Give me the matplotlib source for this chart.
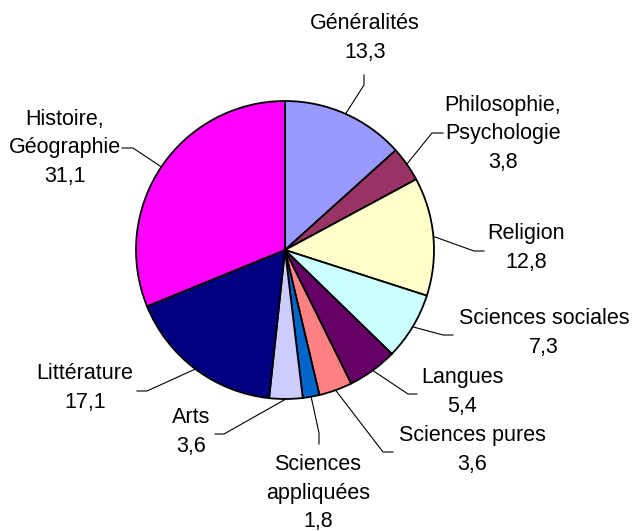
import numpy as np
import matplotlib
matplotlib.use('Agg')
import matplotlib.pyplot as plt

# Données (répartition en %)
categories = ['Généralités', 'Philosophie,\nPsychologie', 'Religion', 'Sciences sociales',
              'Langues', 'Sciences pures', 'Sciences\nappliquées', 'Arts',
              'Littérature', 'Histoire,\nGéographie']
valeurs = [13.3, 3.8, 12.8, 7.3, 5.4, 3.6, 1.8, 3.6, 17.1, 31.1]
couleurs = ['#9999FF', '#993366', '#FFFFCC', '#CCFFFF', '#660066',
            '#FF8080', '#0066CC', '#CCCCFF', '#000080', '#FF00FF']

# Mise en page (pixels, origine en haut à gauche)
W, H = 634, 531
centre_px = (285, 250)
rayon = 149
pos_texte = [(365, 38), (503, 134), (526, 248), (544, 333), (462, 392),
             (472, 450), (318, 493), (191, 432), (85, 388), (65, 148)]
# extrémité côté texte, coude
leaders = [((364, 75), (364, 85)), ((443, 133), (432, 133)), ((484, 251), (474, 251)),
           ((453, 335), (443, 335)), ((417, 394), (408, 394)), ((393, 452), (383, 452)),
           ((319, 444), (319, 433)), ((215, 434), (224, 434)), ((137, 391), (147, 391)),
           ((122, 148), (133, 148))]


def px(p):
    return (p[0], H - p[1])


plt.rcParams['font.family'] = ['Liberation Sans', 'DejaVu Sans']

fig = plt.figure(figsize=(W / 100, H / 100), dpi=100)
ax = fig.add_axes([0, 0, 1, 1])

wedges, _ = ax.pie(valeurs, colors=couleurs, startangle=90, counterclock=False,
                   center=px(centre_px), radius=rayon, frame=True,
                   wedgeprops=dict(edgecolor='black', linewidth=1.3))
ax.set_xlim(0, W)
ax.set_ylim(0, H)
ax.set_aspect('equal')
ax.axis('off')

cx, cy = px(centre_px)
for w, cat, v, tp, (fin, coude) in zip(wedges, categories, valeurs, pos_texte, leaders):
    ang = np.deg2rad((w.theta1 + w.theta2) / 2)
    bord = (cx + rayon * np.cos(ang), cy + rayon * np.sin(ang))
    c = px(coude)
    f = px(fin)
    ax.plot([bord[0], c[0], f[0]], [bord[1], c[1], f[1]], color='black', linewidth=0.8)
    texte = cat + '\n' + f'{v:.1f}'.replace('.', ',')
    x, y = px(tp)
    ax.text(x, y, texte, ha='center', va='center', multialignment='center',
            fontsize=15.5, linespacing=1.45)

fig.savefig('out.png', dpi=100)
